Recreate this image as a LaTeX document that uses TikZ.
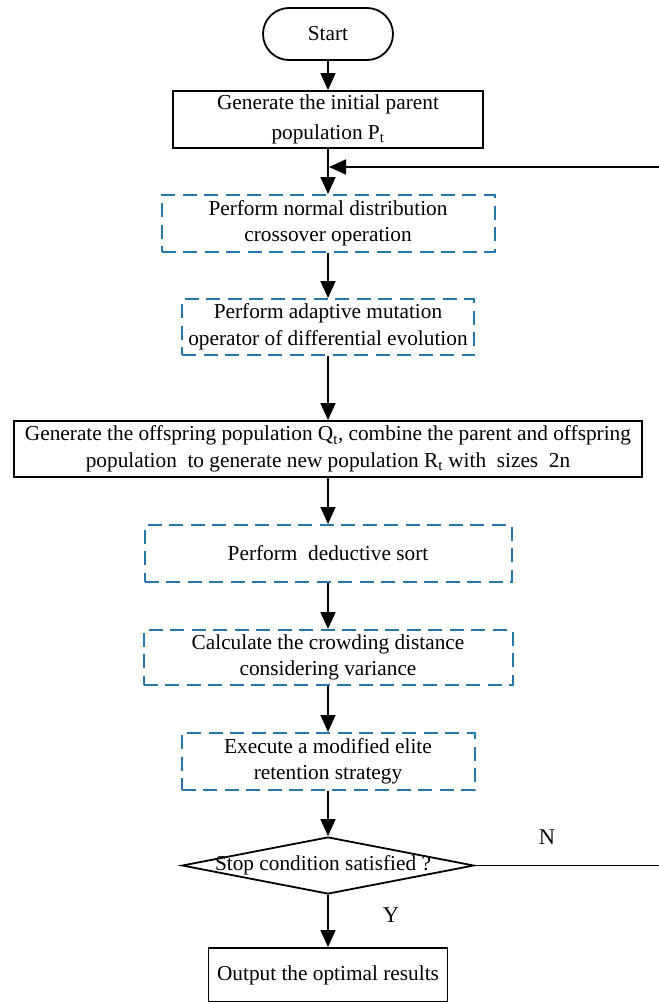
\documentclass[tikz,border=0pt]{standalone}
\usepackage{fontspec}
\setmainfont{Liberation Serif}
\usetikzlibrary{arrows.meta,shapes.geometric}
\definecolor{dashblue}{RGB}{38,120,170}
\tikzset{
  base/.style={inner sep=0pt, align=center, font=\fontsize{21.3}{26.5}\selectfont},
  solidbox/.style={base, draw=black, line width=1.8pt, rectangle},
  dashbox/.style={base, draw=dashblue, line width=2pt, rectangle, dash pattern=on 14pt off 7.5pt},
  term/.style={base, draw=black, line width=1.8pt, rounded corners=26pt},
  dia/.style={draw=black, line width=1.8pt, diamond, inner sep=0pt, aspect=5.1},
  txt/.style={base},
  arr/.style={line width=1.8pt, -{Triangle[length=17pt,width=15pt]}},
  ln/.style={line width=1.8pt}
}
\begin{document}
\begin{tikzpicture}[x=1pt,y=-1pt]
\useasboundingbox[fill=white] (0,0) rectangle (659,1002);
\node[term, minimum width=130pt, minimum height=52pt] (start) at (328,34) {Start};
\node[solidbox, minimum width=310pt, minimum height=57pt] (b1) at (328,119.5) {Generate the initial parent\\[3pt]population P\textsubscript{t}};
\node[dashbox, minimum width=333pt, minimum height=57pt] (d1) at (328,223.5) {Perform normal distribution\\crossover operation};
\node[dashbox, minimum width=292pt, minimum height=56pt] (d2) at (328,327) {Perform adaptive mutation\\operator of differential evolution};
\node[solidbox, minimum width=628pt, minimum height=56pt] (big) at (328,449) {Generate the offspring population Q\textsubscript{t}, combine the parent and offspring\\population~ to generate new population R\textsubscript{t} with~ sizes~ 2n};
\node[dashbox, minimum width=367pt, minimum height=57pt] (d3) at (328,553.5) {Perform~ deductive sort};
\node[dashbox, minimum width=369pt, minimum height=55pt] (d4) at (328,657.5) {Calculate the crowding distance\\considering variance};
\node[dashbox, minimum width=293pt, minimum height=57pt] (d5) at (328,761.5) {Execute a modified elite\\retention strategy};
\node[dia, minimum width=292pt, minimum height=57pt] (dia) at (328,865.5) {};
\node[txt] (diatext) at (323,865) {Stop condition satisfied ?};
\node[solidbox, minimum width=239pt, minimum height=54pt] (out) at (328,975) {Output the optimal results};
\node[txt, font=\fontsize{22.5}{26}\selectfont] (N) at (547,837) {N};
\node[txt, font=\fontsize{22.5}{26}\selectfont] (Y) at (391,915) {Y};
\coordinate (r) at (668,865.5);
\coordinate (j) at (329,167);
\draw[arr] (start) -- (b1);
\draw[arr] (b1) -- (d1);
\draw[arr] (d1) -- (d2);
\draw[arr] (d2) -- (big);
\draw[arr] (big) -- (d3);
\draw[arr] (d3) -- (d4);
\draw[arr] (d4) -- (d5);
\draw[arr] (d5) -- (dia);
\draw[arr] (dia) -- (out);
\draw[arr] (dia.east) -- (r) |- (j);
\end{tikzpicture}
\end{document}
